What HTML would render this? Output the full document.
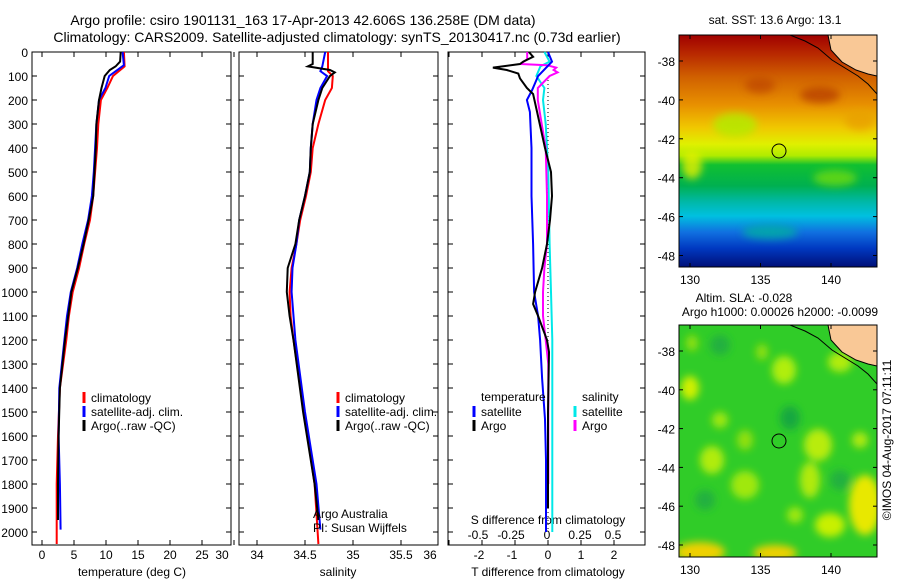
<!DOCTYPE html>
<html><head><meta charset="utf-8">
<style>
html,body{margin:0;padding:0;background:#fff;}
svg{display:block;font-family:"Liberation Sans",sans-serif;}
text{fill:#000;}
</style></head>
<body>
<svg id="chart" width="900" height="580" viewBox="0 0 900 580">
<defs>
<linearGradient id="sstg" x1="0" y1="0" x2="0" y2="1">
<stop offset="0" stop-color="#a00000"/><stop offset="0.08" stop-color="#b82800"/>
<stop offset="0.18" stop-color="#d06000"/><stop offset="0.3" stop-color="#e89000"/>
<stop offset="0.4" stop-color="#f0c800"/><stop offset="0.47" stop-color="#e0f000"/>
<stop offset="0.52" stop-color="#b0ec00"/><stop offset="0.56" stop-color="#10c030"/>
<stop offset="0.65" stop-color="#00b050"/>
<stop offset="0.72" stop-color="#00b8a8"/><stop offset="0.78" stop-color="#00c0e0"/>
<stop offset="0.85" stop-color="#1070e0"/><stop offset="0.92" stop-color="#0038c0"/>
<stop offset="1" stop-color="#001078"/></linearGradient>
<filter id="blur" x="-50%" y="-50%" width="200%" height="200%"><feGaussianBlur stdDeviation="4"/></filter>
<clipPath id="clipTop"><rect x="679" y="35" width="198" height="232"/></clipPath>
<clipPath id="clipBot"><rect x="679" y="325" width="198" height="232"/></clipPath>
</defs>
<text x="303" y="25" text-anchor="middle" font-size="14">Argo profile: csiro 1901131_163 17-Apr-2013 42.606S 136.258E (DM data)</text>
<text x="337" y="42" text-anchor="middle" font-size="14">Climatology: CARS2009. Satellite-adjusted climatology: synTS_20130417.nc (0.73d earlier)</text>
<g id="panels"></g>
<g id="maps">
<g clip-path="url(#clipTop)">
<rect x="679" y="35" width="198" height="232" fill="url(#sstg)"/>
<g filter="url(#blur)" opacity="0.8">
<ellipse cx="692" cy="165" rx="10" ry="14" fill="#e8f000"/>
<ellipse cx="735" cy="125" rx="22" ry="12" fill="#b0ec00"/>
<ellipse cx="835" cy="178" rx="22" ry="8" fill="#70dc10"/>
<ellipse cx="820" cy="95" rx="20" ry="8" fill="#b84000"/>
<ellipse cx="760" cy="85" rx="15" ry="8" fill="#c04800"/>
<ellipse cx="770" cy="232" rx="28" ry="7" fill="#00b0a0"/>
<ellipse cx="860" cy="120" rx="15" ry="10" fill="#e8a000"/>
</g>
<path d="M828 35 L831 50 L842 62 L856 70 L868 74 L877 76 L877 35 Z" fill="#f9c896"/>
<path d="M790 35 L805 41 L818 48 L832 60 L845 68 L858 76 L868 84 L877 94" fill="none" stroke="#000" stroke-width="1"/>
<path d="M828 35 L831 50 L842 62 L856 70 L868 74 L877 76" fill="none" stroke="#000" stroke-width="1"/>
<circle cx="779" cy="151" r="7" fill="none" stroke="#000" stroke-width="1"/>
</g>
<rect x="679" y="35" width="198" height="232" fill="none" stroke="#000"/>
<g clip-path="url(#clipBot)">
<rect x="679" y="325" width="198" height="232" fill="#30cc28"/>
<g filter="url(#blur)">
<ellipse cx="690" cy="388" rx="9" ry="12" fill="#d0f000"/>
<ellipse cx="692" cy="343" rx="6" ry="8" fill="#90e010"/>
<ellipse cx="784" cy="370" rx="12" ry="14" fill="#b0ee10"/>
<ellipse cx="762" cy="352" rx="6" ry="8" fill="#90e010"/>
<ellipse cx="720" cy="420" rx="8" ry="8" fill="#a0e810"/>
<ellipse cx="712" cy="460" rx="12" ry="14" fill="#b0ec10"/>
<ellipse cx="745" cy="440" rx="8" ry="10" fill="#90e010"/>
<ellipse cx="745" cy="485" rx="14" ry="14" fill="#a0e810"/>
<ellipse cx="818" cy="445" rx="14" ry="16" fill="#b8ec10"/>
<ellipse cx="810" cy="480" rx="10" ry="18" fill="#b0ea10"/>
<ellipse cx="865" cy="505" rx="16" ry="30" fill="#e8e800"/>
<ellipse cx="860" cy="440" rx="8" ry="8" fill="#b0ea10"/>
<ellipse cx="830" cy="525" rx="15" ry="12" fill="#c8f000"/>
<ellipse cx="700" cy="552" rx="25" ry="10" fill="#f0d000"/>
<ellipse cx="775" cy="553" rx="22" ry="8" fill="#f0d000"/>
<ellipse cx="795" cy="515" rx="8" ry="8" fill="#a0e810"/>
<ellipse cx="840" cy="362" rx="12" ry="10" fill="#b0ec10"/>
<ellipse cx="720" cy="345" rx="10" ry="10" fill="#20b040"/>
<ellipse cx="790" cy="418" rx="10" ry="12" fill="#18a840"/>
<ellipse cx="705" cy="500" rx="10" ry="10" fill="#20b040"/>
<ellipse cx="840" cy="480" rx="10" ry="10" fill="#20b040"/>
</g>
<path d="M828 325 L831 340 L842 352 L856 360 L868 364 L877 366 L877 325 Z" fill="#f9c896"/>
<path d="M790 325 L805 331 L818 338 L832 350 L845 358 L858 366 L868 374 L877 384" fill="none" stroke="#000" stroke-width="1"/>
<path d="M828 325 L831 340 L842 352 L856 360 L868 364 L877 366" fill="none" stroke="#000" stroke-width="1"/>
<circle cx="779" cy="441" r="7" fill="none" stroke="#000" stroke-width="1"/>
</g>
<rect x="679" y="325" width="198" height="232" fill="none" stroke="#000"/>
<text x="775" y="24" text-anchor="middle" font-size="12">sat. SST: 13.6 Argo: 13.1</text>
<text x="744" y="302" text-anchor="middle" font-size="12">Altim. SLA: -0.028</text>
<text x="780" y="316" text-anchor="middle" font-size="12">Argo h1000: 0.00026 h2000: -0.0099</text>
<text transform="translate(891,440) rotate(-90)" text-anchor="middle" font-size="12">©IMOS 04-Aug-2017 07:11:11</text>
</g>
</svg>
<script>
// ---------- data ----------
const depthTicks = [0,100,200,300,400,500,600,700,800,900,1000,1100,1200,1300,1400,1500,1600,1700,1800,1900,2000];
const tTicks = [0,5,10,15,20,25,30];
const sTicks = [34,34.5,35,35.5,36];
const dTTicks = [-2,-1,0,1,2];
const dSTicks = [-0.5,-0.25,0,0.25,0.5];

const tClimDepth = [0,60,100,150,200,300,400,500,600,700,800,900,1000,1100,1200,1400,1600,1800,2050];
const tClimVal   = [12.8,12.9,11.1,10.2,9.2,8.8,8.6,8.3,8.0,7.5,6.6,5.8,4.8,4.2,3.8,2.8,2.5,2.3,2.3];
const tSatDepth  = [0,55,100,150,200,300,400,500,600,700,800,900,1000,1100,1200,1400,1600,1800,1990];
const tSatVal    = [12.6,12.8,10.5,9.9,8.9,8.5,8.3,8.1,7.8,7.2,6.3,5.5,4.5,3.9,3.5,2.7,2.6,2.8,2.9];
const tArgoDepth = [0,40,60,75,100,150,200,300,400,500,600,700,800,900,1000,1100,1200,1400,1600,1800,1950];
const tArgoVal   = [12.3,12.2,11.5,10.6,9.8,9.3,8.9,8.5,8.4,8.2,8.0,7.3,6.5,5.6,4.6,4.1,3.6,2.8,2.6,2.5,2.5];

const sClimDepth = [0,80,100,150,200,300,400,500,600,700,800,900,1000,1100,1200,1500,1800,2050];
const sClimVal   = [34.74,34.74,34.79,34.78,34.71,34.64,34.58,34.56,34.51,34.45,34.41,34.36,34.34,34.35,34.38,34.49,34.60,34.64];
const sSatDepth  = [0,60,80,100,150,200,300,400,500,600,700,800,900,1000,1100,1200,1500,1800,1990];
const sSatVal    = [34.71,34.68,34.66,34.73,34.66,34.62,34.58,34.56,34.55,34.50,34.44,34.41,34.37,34.36,34.38,34.40,34.50,34.62,34.66];
const sArgoDepth = [0,50,60,75,85,100,150,200,300,400,500,600,700,800,900,1000,1100,1200,1500,1800,1950];
const sArgoVal   = [34.58,34.58,34.53,34.76,34.81,34.76,34.68,34.64,34.58,34.56,34.55,34.50,34.44,34.40,34.32,34.31,34.34,34.38,34.48,34.60,34.64];

const dTSatDepth = [0,40,100,158,200,250,400,600,800,1000,1100,1200,1360,1530,1700,2000];
const dTSatVal   = [0,0.12,-0.3,-0.48,-0.64,-0.55,-0.5,-0.5,-0.45,-0.42,-0.3,-0.24,-0.18,-0.09,-0.06,-0.06];
const dTArgoDepth= [0,20,40,50,65,75,90,110,150,175,250,400,500,600,700,800,900,1000,1050,1100,1200,1250,1500,1900];
const dTArgoVal  = [-0.58,-0.45,-0.75,-0.85,-1.67,-1.25,-0.9,-0.85,-0.64,-0.45,-0.33,-0.09,0.09,0.12,0.06,-0.03,-0.18,-0.39,-0.45,-0.3,-0.03,0.03,0,0];
const dSArgoDepth= [0,30,50,55,65,75,85,100,150,200,300,400,600,800,900,1000,1100,1200,1300,1800];
const dSArgoVal  = [-0.15,-0.15,-0.2,0,0.07,0.05,0.08,0.02,-0.07,-0.07,-0.04,-0.01,0,0,-0.02,-0.03,-0.03,-0.01,0.01,0.01];
const dSSatDepth = [0,40,60,100,150,200,300,500,800,1000,1200,1500,2000];
const dSSatVal   = [-0.02,0.02,-0.05,-0.08,-0.02,-0.03,-0.01,0.01,0.02,0.03,0.04,0.04,0.04];

const mapLat = [-38,-40,-42,-44,-46,-48];
const mapLon = [130,135,140];

// ---------- helpers ----------
const NS = 'http://www.w3.org/2000/svg';
const root = document.getElementById('panels');
const PT = 52, PB = 545;
const yD = d => PT + d * 0.24;
function el(tag, attrs, parent) {
  const e = document.createElementNS(NS, tag);
  for (const k in attrs) e.setAttribute(k, attrs[k]);
  (parent || root).appendChild(e);
  return e;
}
function txt(x, y, s, size, anchor, name) {
  const t = el('text', {x: x, y: y, 'font-size': size, 'text-anchor': anchor || 'middle'});
  t.textContent = s;
  
  
  return t;
}
function line(depths, vals, xf, color, name) {
  const pts = depths.map((d, i) => xf(vals[i]).toFixed(1) + ',' + yD(d).toFixed(1)).join(' ');
  const p = el('polyline', {points: pts, fill: 'none', stroke: color, 'stroke-width': 2, 'stroke-linejoin': 'miter'});
  
  
}
function frame(x0, x1, name) {
  const r = el('rect', {x: x0, y: PT, width: x1 - x0, height: PB - PT, fill: 'none', stroke: '#000', 'stroke-width': 1});
  
  
  depthTicks.forEach(d => {
    el('line', {x1: x0, x2: x0 + 5, y1: yD(d), y2: yD(d), stroke: '#000'});
    el('line', {x1: x1 - 5, x2: x1, y1: yD(d), y2: yD(d), stroke: '#000'});
  });
}
function legendMark(x, y, color) {
  const m = el('line', {x1: x, x2: x, y1: y - 10, y2: y + 1, stroke: color, 'stroke-width': 3});
  
  
}

// ---------- panel 1: temperature ----------
const xT = v => 42 + 6.4 * v;
frame(32, 231, 'temperature-panel');
depthTicks.forEach(d => txt(28, yD(d) + 5, String(d), 12, 'end', 'depth-tick-label'));
tTicks.forEach(v => {
  el('line', {x1: xT(v), x2: xT(v), y1: PB, y2: PB - 5, stroke: '#000'});
  el('line', {x1: xT(v), x2: xT(v), y1: PT, y2: PT + 5, stroke: '#000'});
  txt(v === 30 ? 222 : xT(v), 559, String(v), 12, 'middle', 'temperature-tick-label');
});
txt(132, 576, 'temperature (deg C)', 12, 'middle', 'temperature-axis-title');
line(tClimDepth, tClimVal, xT, '#ff0000', 'temperature-climatology-line');
line(tSatDepth, tSatVal, xT, '#0000ff', 'temperature-satellite-line');
line(tArgoDepth, tArgoVal, xT, '#000000', 'temperature-argo-line');
[['climatology','#ff0000'],['satellite-adj. clim.','#0000ff'],['Argo(..raw -QC)','#000000']].forEach((e, i) => {
  legendMark(84, 402 + i * 14, e[1]);
  txt(91, 402 + i * 14, e[0], 12, 'start', 'legend-entry');
});

// ---------- panel 2: salinity ----------
const xS = v => 257 + 96 * (v - 34);
frame(239, 438, 'salinity-panel');
sTicks.forEach(v => {
  el('line', {x1: xS(v), x2: xS(v), y1: PB, y2: PB - 5, stroke: '#000'});
  el('line', {x1: xS(v), x2: xS(v), y1: PT, y2: PT + 5, stroke: '#000'});
  txt(v === 36 ? 430 : xS(v), 559, String(v), 12, 'middle', 'salinity-tick-label');
});
txt(338, 576, 'salinity', 12, 'middle', 'salinity-axis-title');
line(sClimDepth, sClimVal, xS, '#ff0000', 'salinity-climatology-line');
line(sSatDepth, sSatVal, xS, '#0000ff', 'salinity-satellite-line');
line(sArgoDepth, sArgoVal, xS, '#000000', 'salinity-argo-line');
[['climatology','#ff0000'],['satellite-adj. clim.','#0000ff'],['Argo(..raw -QC)','#000000']].forEach((e, i) => {
  legendMark(338, 402 + i * 14, e[1]);
  txt(345, 402 + i * 14, e[0], 12, 'start', 'legend-entry');
});
txt(313, 518, 'Argo Australia', 12, 'start', 'credit-argo-australia');
txt(313, 532, 'PI: Susan Wijffels', 12, 'start', 'credit-pi');

// ---------- panel 3: differences ----------
const xdT = v => 548 + 33 * v;
const xdS = v => 547 + 132 * v;
frame(448, 645, 'difference-panel');
el('line', {x1: 548, x2: 548, y1: 80, y2: 530, stroke: '#000', 'stroke-dasharray': '1,3'});
dTTicks.forEach(v => {
  el('line', {x1: xdT(v), x2: xdT(v), y1: PB, y2: PB - 5, stroke: '#000'});
  el('line', {x1: xdT(v), x2: xdT(v), y1: PT, y2: PT + 5, stroke: '#000'});
  txt(xdT(v) - (v < 0 ? 3 : 0), 559, String(v), 12, 'middle', 'tdiff-tick-label');
});
dSTicks.forEach(v => txt(xdS(v) - (v < 0 ? 3 : 0), 539, String(v), 12, 'middle', 'sdiff-tick-label'));
txt(548, 524, 'S difference from climatology', 12, 'middle', 'sdiff-axis-title');
txt(548, 576, 'T difference from climatology', 12, 'middle', 'tdiff-axis-title');
line(dSSatDepth, dSSatVal, xdS, '#00e8e8', 'sdiff-satellite-line');
line(dSArgoDepth, dSArgoVal, xdS, '#ff00ff', 'sdiff-argo-line');
line(dTSatDepth, dTSatVal, xdT, '#0000ff', 'tdiff-satellite-line');
line(dTArgoDepth, dTArgoVal, xdT, '#000000', 'tdiff-argo-line');
txt(481, 401, 'temperature', 12, 'start', 'legend-title-temperature');
txt(582, 401, 'salinity', 12, 'start', 'legend-title-salinity');
legendMark(474, 416, '#0000ff'); txt(481, 416, 'satellite', 12, 'start', 'legend-entry');
legendMark(474, 430, '#000000'); txt(481, 430, 'Argo', 12, 'start', 'legend-entry');
legendMark(575, 416, '#00e8e8'); txt(582, 416, 'satellite', 12, 'start', 'legend-entry');
legendMark(575, 430, '#ff00ff'); txt(582, 430, 'Argo', 12, 'start', 'legend-entry');

// ---------- map axes ----------
const mg = document.getElementById('maps');
const yLatTop = v => 61 + (-38 - v) * 19.45;
const yLatBot = v => 351 + (-38 - v) * 19.4;
const xLon = v => 690 + (v - 130) * 14.1;
mapLat.forEach(v => {
  [[yLatTop(v)], [yLatBot(v)]].forEach(a => {
    const y = a[0];
    el('line', {x1: 679, x2: 683, y1: y, y2: y, stroke: '#000'}, mg);
    el('line', {x1: 873, x2: 877, y1: y, y2: y, stroke: '#000'}, mg);
    const t = el('text', {x: 675, y: y + 5, 'font-size': 12, 'text-anchor': 'end'}, mg);
    t.textContent = String(v);
    
    
  });
});
mapLon.forEach(v => {
  [[35, 284], [325, 574]].forEach(a => {
    el('line', {x1: xLon(v), x2: xLon(v), y1: a[0], y2: a[0] + 4, stroke: '#000'}, mg);
    el('line', {x1: xLon(v), x2: xLon(v), y1: a[0] + 232, y2: a[0] + 228, stroke: '#000'}, mg);
    const t = el('text', {x: xLon(v), y: a[1], 'font-size': 12, 'text-anchor': 'middle'}, mg);
    t.textContent = String(v);
    
    
  });
});
</script>
</body></html>
